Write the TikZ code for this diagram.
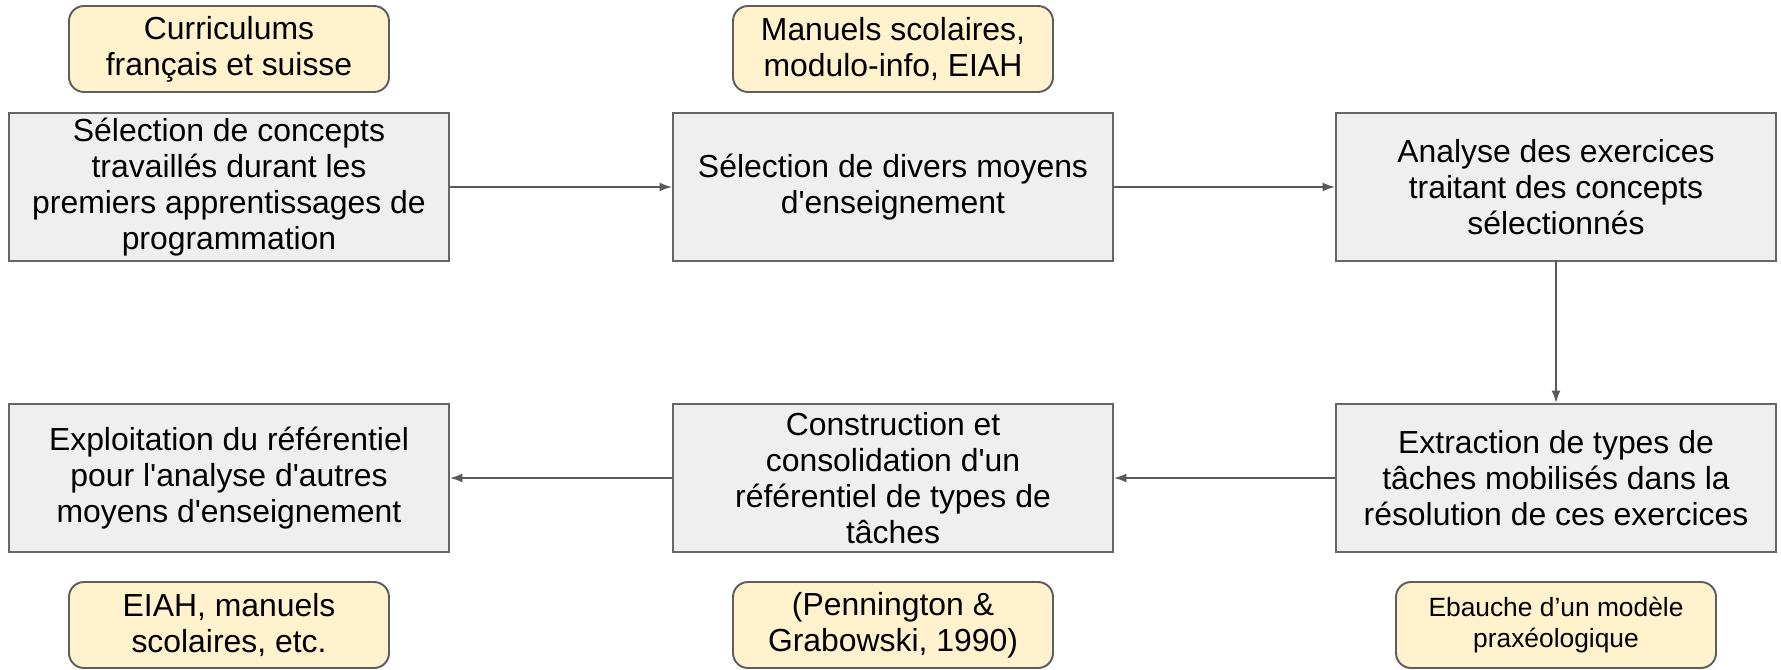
\documentclass[tikz,border=0pt]{standalone}
\usepackage{fontspec}
\setmainfont{Liberation Sans}
\usetikzlibrary{arrows.meta}

\definecolor{stepfill}{HTML}{EFEFEF}
\definecolor{stepline}{HTML}{666666}
\definecolor{notefill}{HTML}{FFF2CC}
\definecolor{noteline}{HTML}{5E5E5E}
\definecolor{flowline}{HTML}{595959}
\newcommand{\apos}{\textquotesingle}

\begin{document}
\begin{tikzpicture}[>={Latex[length=7pt,width=5pt]},
	stepbox/.style={draw=stepline, line width=1.1pt, fill=stepfill, minimum width=8.8cm, minimum height=2.96cm, inner sep=0pt, align=center, font=\fontsize{18.15}{20.5}\selectfont},
	notebox/.style={draw=noteline, line width=1.1pt, fill=notefill, rounded corners=0.3cm, minimum width=6.4cm, minimum height=1.72cm, inner sep=0pt, align=center, font=\fontsize{18.15}{20.5}\selectfont},
	flow/.style={->, draw=flowline, line width=0.85pt}]
			%%%	Help Lines
%			\draw [thin, help lines] (0,0) grid (35,13);
			\useasboundingbox (0,0) rectangle (35.62,13.38);
			%%%	Etapes
			\node[stepbox] (concepts) at (4.58,9.64) {Sélection de concepts\\travaillés durant les\\premiers apprentissages de\\programmation};
			\node[stepbox] (moyens) at (17.86,9.64) {Sélection de divers moyens\\d\apos enseignement};
			\node[stepbox] (analyse) at (31.12,9.64) {Analyse des exercices\\traitant des concepts\\sélectionnés};
			\node[stepbox] (extraction) at (31.12,3.82) {Extraction de types de\\tâches mobilisés dans la\\résolution de ces exercices};
			\node[stepbox] (referentiel) at (17.86,3.82) {Construction et\\consolidation d\apos un\\référentiel de types de\\tâches};
			\node[stepbox] (exploitation) at (4.58,3.82) {Exploitation du référentiel\\pour l\apos analyse d\apos autres\\moyens d\apos enseignement};
			%%%	Sources
			\node[notebox] (curricula) at (4.58,12.4) {Curriculums\\français et suisse};
			\node[notebox] (manuels) at (17.86,12.4) {Manuels scolaires,\\modulo-info, EIAH};
			\node[notebox] (eiah) at (4.58,0.88) {EIAH, manuels\\scolaires, etc.};
			\node[notebox] (pennington) at (17.86,0.88) {(Pennington \&\\Grabowski, 1990)};
			\node[notebox, font=\fontsize{15}{17.5}\selectfont] (ebauche) at (31.12,0.88) {Ebauche d’un modèle\\praxéologique};
			%%%	Fleches
			\draw[flow] (concepts) -- (moyens);
			\draw[flow] (moyens) -- (analyse);
			\draw[flow] (analyse) -- (extraction);
			\draw[flow] (extraction) -- (referentiel);
			\draw[flow] (referentiel) -- (exploitation);
		\end{tikzpicture}
\end{document}
